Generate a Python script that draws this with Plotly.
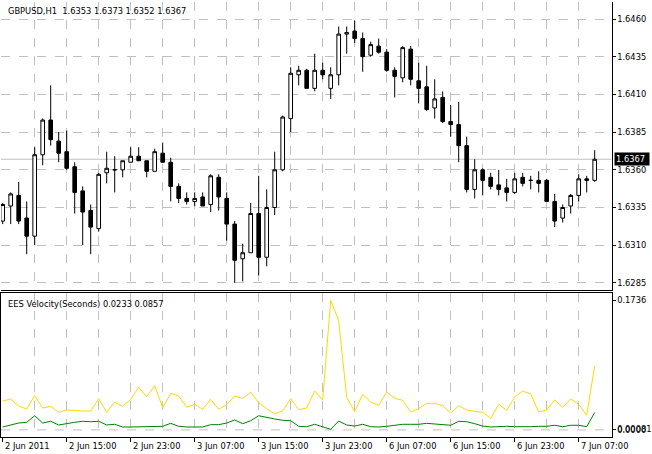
import plotly.graph_objects as go

# ---------------- data ----------------
symbol_title = "GBPUSD,H1"
indicator_name = "EES Velocity(Seconds)"

open_ = [1.6326, 1.6336, 1.6343, 1.6328, 1.6316, 1.6370, 1.6393, 1.6379, 1.6372, 1.6362,
         1.6346, 1.6333, 1.6321, 1.6358, 1.6360, 1.6360, 1.6365, 1.6369, 1.6366, 1.6359,
         1.6371, 1.6365, 1.6349, 1.6341, 1.6339, 1.6342, 1.6337, 1.6355, 1.6341, 1.6324,
         1.6301, 1.6305, 1.6331, 1.6302, 1.6335, 1.6360, 1.6394, 1.6423, 1.6426, 1.6414,
         1.6426, 1.6414, 1.6423, 1.6450, 1.6452, 1.6447, 1.6436, 1.6442, 1.6438, 1.6426,
         1.6421, 1.6440, 1.6419, 1.6415, 1.6401, 1.6408, 1.6392, 1.6390, 1.6376, 1.6347,
         1.6360, 1.6355, 1.6350, 1.6348, 1.6345, 1.6355, 1.6353, 1.6353, 1.6353, 1.6339,
         1.6328, 1.6336, 1.6343, 1.6354, 1.6353]
high = [1.6338, 1.6345, 1.6352, 1.6339, 1.6375, 1.6394, 1.6416, 1.6385, 1.6386, 1.6365,
        1.6349, 1.6337, 1.6358, 1.6372, 1.6369, 1.6366, 1.6375, 1.6375, 1.6366, 1.6374,
        1.6378, 1.6368, 1.6351, 1.6345, 1.6345, 1.6345, 1.6357, 1.6357, 1.6345, 1.6326,
        1.6311, 1.6338, 1.6356, 1.6347, 1.6372, 1.6396, 1.6428, 1.6429, 1.6427, 1.6437,
        1.6431, 1.6428, 1.6455, 1.6455, 1.6459, 1.6451, 1.6445, 1.6447, 1.6440, 1.6428,
        1.6442, 1.6442, 1.6431, 1.6429, 1.6420, 1.6412, 1.6403, 1.6405, 1.6382, 1.6367,
        1.6361, 1.6358, 1.6360, 1.6354, 1.6358, 1.6358, 1.6356, 1.6359, 1.6354, 1.6344,
        1.6337, 1.6344, 1.6357, 1.6356, 1.6373]
low = [1.6324, 1.6324, 1.6324, 1.6304, 1.6310, 1.6363, 1.6376, 1.6365, 1.6360, 1.6331,
       1.6310, 1.6304, 1.6319, 1.6351, 1.6345, 1.6355, 1.6365, 1.6366, 1.6355, 1.6359,
       1.6365, 1.6339, 1.6338, 1.6337, 1.6336, 1.6336, 1.6332, 1.6333, 1.6313, 1.6285,
       1.6286, 1.6305, 1.6290, 1.6296, 1.6330, 1.6359, 1.6385, 1.6416, 1.6414, 1.6412,
       1.6420, 1.6407, 1.6416, 1.6437, 1.6444, 1.6425, 1.6435, 1.6437, 1.6425, 1.6408,
       1.6418, 1.6416, 1.6404, 1.6399, 1.6394, 1.6391, 1.6382, 1.6365, 1.6345, 1.6341,
       1.6343, 1.6347, 1.6343, 1.6339, 1.6344, 1.6349, 1.6347, 1.6345, 1.6339, 1.6322,
       1.6325, 1.6331, 1.6339, 1.6345, 1.6352]
close = [1.6337, 1.6344, 1.6326, 1.6316, 1.6370, 1.6393, 1.6380, 1.6371, 1.6361, 1.6345,
         1.6332, 1.6322, 1.6357, 1.6361, 1.6360, 1.6366, 1.6369, 1.6366, 1.6359, 1.6372,
         1.6365, 1.6349, 1.6341, 1.6339, 1.6341, 1.6336, 1.6356, 1.6342, 1.6324, 1.6300,
         1.6305, 1.6331, 1.6302, 1.6335, 1.6360, 1.6395, 1.6424, 1.6426, 1.6414, 1.6426,
         1.6423, 1.6423, 1.6450, 1.6451, 1.6447, 1.6435, 1.6443, 1.6438, 1.6426, 1.6422,
         1.6441, 1.6420, 1.6414, 1.6400, 1.6407, 1.6392, 1.6390, 1.6376, 1.6347, 1.6360,
         1.6353, 1.6349, 1.6347, 1.6345, 1.6354, 1.6351, 1.6353, 1.6351, 1.6339, 1.6326,
         1.6335, 1.6343, 1.6354, 1.6353, 1.6367]

velocity_yellow = [0.0387, 0.0414, 0.0320, 0.0280, 0.0458, 0.0293, 0.0316, 0.0236, 0.0267, 0.0257,
                   0.0253, 0.0253, 0.0418, 0.0236, 0.0370, 0.0316, 0.0410, 0.0571, 0.0441, 0.0592,
                   0.0297, 0.0490, 0.0454, 0.0303, 0.0343, 0.0276, 0.0410, 0.0276, 0.0338, 0.0454,
                   0.0423, 0.0504, 0.0364, 0.0284, 0.0213, 0.0257, 0.0418, 0.0271, 0.0293, 0.0521,
                   0.0401, 0.1736, 0.1463, 0.0437, 0.0244, 0.0477, 0.0374, 0.0330, 0.0508, 0.0423,
                   0.0397, 0.0240, 0.0284, 0.0356, 0.0356, 0.0324, 0.0226, 0.0324, 0.0267, 0.0249,
                   0.0236, 0.0155, 0.0343, 0.0263, 0.0437, 0.0521, 0.0481, 0.0240, 0.0267, 0.0401,
                   0.0303, 0.0414, 0.0343, 0.0196, 0.0857]
velocity_green = [0.0039, 0.0070, 0.0092, 0.0102, 0.0190, 0.0092, 0.0115, 0.0066, 0.0088, 0.0102,
                  0.0115, 0.0110, 0.0115, 0.0066, 0.0075, 0.0039, 0.0039, 0.0039, 0.0039, 0.0048,
                  0.0048, 0.0088, 0.0048, 0.0039, 0.0039, 0.0039, 0.0070, 0.0070, 0.0092, 0.0133,
                  0.0083, 0.0123, 0.0190, 0.0163, 0.0146, 0.0129, 0.0123, 0.0048, 0.0043, 0.0075,
                  0.0046, 0.0008, 0.0119, 0.0066, 0.0052, 0.0075, 0.0043, 0.0039, 0.0048, 0.0062,
                  0.0075, 0.0075, 0.0075, 0.0088, 0.0079, 0.0062, 0.0062, 0.0115, 0.0110, 0.0083,
                  0.0052, 0.0039, 0.0048, 0.0048, 0.0043, 0.0039, 0.0043, 0.0048, 0.0048, 0.0062,
                  0.0043, 0.0062, 0.0062, 0.0043, 0.0233]

bars = list(range(len(close)))

price_ticks = [1.6285, 1.6310, 1.6335, 1.6360, 1.6385, 1.6410, 1.6435, 1.6460]
time_tick_bars = [0, 8, 16, 24, 32, 40, 48, 56, 64, 72]
time_tick_labels = ["2 Jun 2011", "2 Jun 15:00", "2 Jun 23:00", "3 Jun 07:00", "3 Jun 15:00",
                    "3 Jun 23:00", "6 Jun 07:00", "6 Jun 15:00", "6 Jun 23:00", "7 Jun 07:00"]
grid_bars = list(range(4, 80, 4))
sub_tick_vals = [0.0, 0.00081, 0.1736]
sub_tick_text = ["0.0000", "0.00081", "0.1736"]

# ---------------- layout constants ----------------
W, H = 652, 454
FONT = "DejaVu Sans"
FS = 8.3
GRID = "#c0c0c0"
x_left_px, x_right_px = 1.0, 611.5
x_dom = [x_left_px / W, x_right_px / W]
x_rng = [-0.2125, 76.1]
main_dom = [1 - 290 / H, 1 - 2 / H]
sub_dom = [1 - 436.7 / H, 1 - 293.3 / H]
main_rng = [1.628029, 1.647127]
sub_rng = [-0.009116, 0.18304]

fig = go.Figure()

fig.add_trace(go.Candlestick(
    x=bars, open=open_, high=high, low=low, close=close,
    increasing=dict(fillcolor="white", line=dict(color="black", width=1)),
    decreasing=dict(fillcolor="black", line=dict(color="black", width=1)),
    whiskerwidth=0, xaxis="x", yaxis="y", showlegend=False, hoverinfo="skip",
))

fig.add_trace(go.Scatter(
    x=bars, y=velocity_yellow, mode="lines", line=dict(color="#FFD700", width=1),
    xaxis="x2", yaxis="y2", showlegend=False, hoverinfo="skip",
))
fig.add_trace(go.Scatter(
    x=bars, y=velocity_green, mode="lines", line=dict(color="#008000", width=1),
    xaxis="x2", yaxis="y2", showlegend=False, hoverinfo="skip",
))

# current price line
fig.add_shape(type="line", xref="x domain", yref="y", x0=0, x1=1,
              y0=close[-1], y1=close[-1], line=dict(color="#c0c0c0", width=1), layer="below")
# zero level in indicator window
fig.add_shape(type="line", xref="x2 domain", yref="y2", x0=0, x1=1,
              y0=0, y1=0, line=dict(color=GRID, width=1, dash="dash"), layer="below")

axis_font = dict(family=FONT, size=FS, color="black")

fig.update_layout(
    width=W, height=H, margin=dict(l=0, r=0, t=0, b=0),
    paper_bgcolor="white", plot_bgcolor="white",
    boxgap=0.35,
    font=axis_font,
    xaxis=dict(domain=x_dom, range=x_rng, anchor="y", tickmode="array", tickvals=grid_bars,
               showticklabels=False, ticks="", showgrid=True, gridcolor=GRID, griddash="dash",
               gridwidth=1, showline=True, linecolor="black", linewidth=1, zeroline=False,
               rangeslider=dict(visible=False), fixedrange=True),
    yaxis=dict(domain=main_dom, range=main_rng, anchor="x", side="right", tickmode="array",
               tickvals=price_ticks, tickformat=".4f", ticks="outside", ticklen=3,
               tickcolor="black", showgrid=True, gridcolor=GRID, griddash="dash",
               showline=True, linecolor="black", linewidth=1, zeroline=False,
               tickfont=axis_font),
    xaxis2=dict(domain=x_dom, range=x_rng, anchor="y2", tickmode="array", tickvals=grid_bars,
                showticklabels=False, ticks="", showgrid=True, gridcolor=GRID, griddash="dash",
                showline=True, linecolor="black", linewidth=1, mirror=True, zeroline=False),
    xaxis3=dict(domain=x_dom, range=x_rng, anchor="y2", overlaying="x2", side="bottom",
                tickmode="array", tickvals=time_tick_bars, showticklabels=False,
                ticks="outside", ticklen=4, tickcolor="black",
                showgrid=False, showline=False, zeroline=False),
    yaxis2=dict(domain=sub_dom, range=sub_rng, anchor="x2", side="right", tickmode="array",
                tickvals=sub_tick_vals, ticktext=sub_tick_text, ticks="outside", ticklen=3,
                tickcolor="black", showgrid=False, showline=True, linecolor="black",
                linewidth=1, mirror=True, zeroline=False, tickfont=axis_font),
)

# dummy trace so xaxis3 renders
fig.add_trace(go.Scatter(x=[bars[0]], y=[None], xaxis="x3", yaxis="y2",
                         showlegend=False, hoverinfo="skip"))

# time labels, left-aligned at their bar tick (MT4 style)
for b, lab in zip(time_tick_bars, time_tick_labels):
    fig.add_annotation(text=lab, xref="x3", yref="paper", x=b, y=1 - 445.5 / H,
                       xanchor="left", yanchor="middle", xshift=0, showarrow=False,
                       font=axis_font)

title_text = f"{symbol_title}  {open_[-1]:.4f} {high[-1]:.4f} {low[-1]:.4f} {close[-1]:.4f}"
fig.add_annotation(text=title_text, xref="paper", yref="paper", x=6 / W, y=1 - 10.7 / H,
                   xanchor="left", yanchor="middle", showarrow=False, font=axis_font)
ind_text = f"{indicator_name} {velocity_green[-1]:.4f} {velocity_yellow[-1]:.4f}"
fig.add_annotation(text=ind_text, xref="paper", yref="paper", x=6 / W, y=1 - 303.7 / H,
                   xanchor="left", yanchor="middle", showarrow=False, font=axis_font)
# current price tag
fig.add_annotation(text=f"{close[-1]:.4f}", xref="paper", yref="y", x=614 / W, y=close[-1],
                   xanchor="left", yanchor="middle", showarrow=False, bgcolor="black",
                   borderpad=1, width=32, align="left",
                   font=dict(family=FONT, size=FS, color="white"))

fig.write_html("out.html", config={"displayModeBar": False, "staticPlot": True},
               post_script="document.body.style.margin='0';document.body.style.overflow='hidden';")
